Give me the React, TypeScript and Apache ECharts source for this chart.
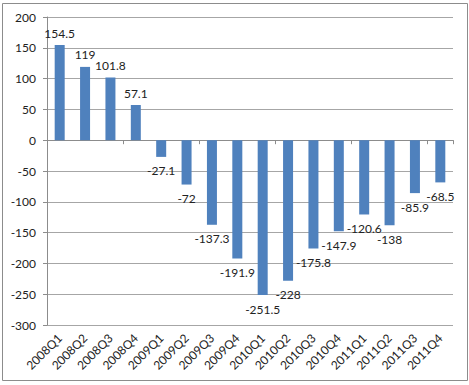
import React, { useEffect, useRef } from "react";
import * as echarts from "echarts";

const categories = [
  "2008Q1", "2008Q2", "2008Q3", "2008Q4",
  "2009Q1", "2009Q2", "2009Q3", "2009Q4",
  "2010Q1", "2010Q2", "2010Q3", "2010Q4",
  "2011Q1", "2011Q2", "2011Q3", "2011Q4",
];
const values = [
  154.5, 119, 101.8, 57.1, -27.1, -72, -137.3, -191.9,
  -251.5, -228, -175.8, -147.9, -120.6, -138, -85.9, -68.5,
];

const FONT = "Lato, 'Open Sans', sans-serif";

export default function App() {
  const ref = useRef<HTMLDivElement>(null);
  useEffect(() => {
    if (!ref.current) return;
    const chart = echarts.init(ref.current, undefined, { renderer: "svg" });
    chart.setOption({
      animation: false,
      backgroundColor: "#ffffff",
      textStyle: { fontFamily: FONT },
      graphic: [
        {
          type: "rect",
          shape: { x: 2.5, y: 3.5, width: 465, height: 377 },
          style: { fill: "none", stroke: "#8c8c8c", lineWidth: 1 },
          z: -1,
        },
      ],
      grid: { left: 47, right: 16, top: 17, bottom: 60 },
      xAxis: [
        {
          type: "category",
          data: categories,
          boundaryGap: true,
          axisLine: { onZero: true, lineStyle: { color: "#8c8c8c", width: 1 } },
          axisTick: { show: true, length: 4, alignWithLabel: false, lineStyle: { color: "#8c8c8c" } },
          axisLabel: { show: false },
          splitLine: { show: false },
        },
        {
          type: "category",
          data: categories,
          position: "bottom",
          axisLine: { show: false, onZero: false },
          axisTick: { show: false },
          axisLabel: {
            show: true,
            rotate: 45,
            interval: 0,
            margin: 11,
            fontSize: 12,
            color: "#222",
            fontFamily: FONT,
          },
        },
      ],
      yAxis: {
        type: "value",
        min: -300,
        max: 200,
        interval: 50,
        axisLine: { show: true, lineStyle: { color: "#8c8c8c" } },
        axisTick: { show: true, length: 4, lineStyle: { color: "#8c8c8c" } },
        axisLabel: { fontSize: 12, color: "#222", margin: 11, fontFamily: FONT },
        splitLine: { show: true, lineStyle: { color: "#a6a6a6", width: 1 } },
      },
      series: [
        {
          type: "bar",
          xAxisIndex: 0,
          data: values.map((v) => ({
            value: v,
            label: {
              show: true,
              position: v >= 0 ? "top" : "bottom",
              distance: v >= 0 ? 6 : 8,
              fontSize: 12,
              color: "#222",
              fontFamily: FONT,
            },
          })),
          barWidth: 10,
          itemStyle: { color: "#4f81bd" },
        },
      ],
    });
    return () => chart.dispose();
  }, []);
  return (
    <div
      ref={ref}
      style={{ position: "absolute", left: 0, top: 0, width: 469, height: 385 }}
    />
  );
}
